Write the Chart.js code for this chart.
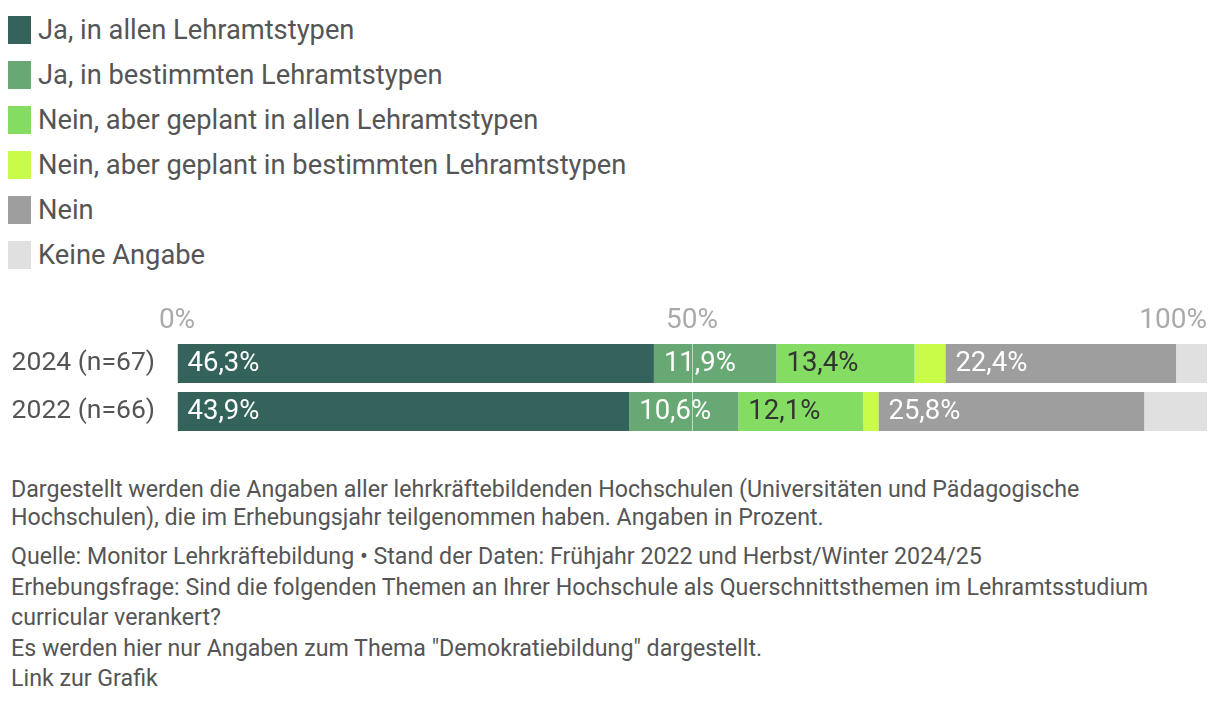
<!DOCTYPE html>
<html lang="de">
<head>
<meta charset="utf-8">
<script src="https://cdn.jsdelivr.net/npm/chart.js@4.4.1/dist/chart.umd.min.js"></script>
<style>
  body { margin: 0; width: 1220px; height: 702px; background: #fff; font-family: Roboto, sans-serif; color: #555; position: relative; overflow: hidden; }
  #legend { position: absolute; left: 8px; top: 7px; }
  .item { height: 45px; display: flex; align-items: center; font-size: 27.3px; white-space: nowrap; }
  .swatch { width: 23px; height: 28px; margin-right: 7px; flex: none; }
  #chart { position: absolute; left: 0; top: 290px; }
  #notes { position: absolute; left: 11px; top: 475px; font-size: 23.2px; white-space: nowrap; }
  #notes p { margin: 0; }
  #notes .p1 { line-height: 28px; }
  #notes .p2 { line-height: 30.5px; margin-top: 10px; }
</style>
</head>
<body>
<div id="legend"></div>
<canvas id="chart" width="1220" height="150"></canvas>
<div id="notes">
  <p class="p1">Dargestellt werden die Angaben aller lehrkräftebildenden Hochschulen (Universitäten und Pädagogische<br>Hochschulen), die im Erhebungsjahr teilgenommen haben. Angaben in Prozent.</p>
  <p class="p2">Quelle: Monitor Lehrkräftebildung • Stand der Daten: Frühjahr 2022 und Herbst/Winter 2024/25<br>Erhebungsfrage: Sind die folgenden Themen an Ihrer Hochschule als Querschnittsthemen im Lehramtsstudium<br>curricular verankert?<br>Es werden hier nur Angaben zum Thema "Demokratiebildung" dargestellt.<br>Link zur Grafik</p>
</div>
<script>
// Daten
const categories = ['2024 (n=67)', '2022 (n=66)'];
const seriesNames = [
    'Ja, in allen Lehramtstypen',
    'Ja, in bestimmten Lehramtstypen',
    'Nein, aber geplant in allen Lehramtstypen',
    'Nein, aber geplant in bestimmten Lehramtstypen',
    'Nein',
    'Keine Angabe'
];
const jaAlle = [46.3, 43.9];
const jaBestimmte = [11.9, 10.6];
const geplantAlle = [13.4, 12.1];
const geplantBestimmte = [3.0, 1.5];
const nein = [22.4, 25.8];
const keineAngabe = [3.0, 6.1];
const xTicks = [0, 50, 100];

const colors = ['#33635a', '#68a874', '#84dc63', '#c9fc48', '#9e9e9e', '#e0e0e0'];
const labelColors = ['#fff', '#fff', '#333', '#333', '#fff', '#333'];
const seriesValues = [jaAlle, jaBestimmte, geplantAlle, geplantBestimmte, nein, keineAngabe];

// Werte in den Balken
const valueLabels = {
    id: 'valueLabels',
    afterDatasetsDraw(chart) {
        const ctx = chart.ctx;
        ctx.save();
        ctx.font = '27.5px Roboto, sans-serif';
        ctx.textAlign = 'left';
        ctx.textBaseline = 'middle';
        chart.data.datasets.forEach(function (ds, i) {
            chart.getDatasetMeta(i).data.forEach(function (bar, j) {
                const v = ds.data[j];
                if (v < 7) return;
                ctx.fillStyle = labelColors[i];
                ctx.fillText(v.toFixed(1).replace('.', ',') + '%', Math.min(bar.base, bar.x) + 10, bar.y + 1);
            });
        });
        ctx.restore();
    }
};

// Achsenbeschriftung oben (letzte rechtsbündig)
const topTicks = {
    id: 'topTicks',
    afterDraw(chart) {
        const ctx = chart.ctx;
        const scale = chart.scales.x;
        ctx.save();
        ctx.font = '28px Roboto, sans-serif';
        ctx.fillStyle = '#aaa';
        ctx.textBaseline = 'bottom';
        xTicks.forEach(function (t, i) {
            ctx.textAlign = i === xTicks.length - 1 ? 'right' : 'center';
            ctx.fillText(t + '%', scale.getPixelForValue(t), chart.chartArea.top - 5);
        });
        ctx.restore();
    }
};

const chart = new Chart(document.getElementById('chart'), {
    type: 'bar',
    data: {
        labels: categories,
        datasets: seriesNames.map(function (name, i) {
            return {
                label: name,
                data: seriesValues[i],
                backgroundColor: colors[i],
                borderWidth: 0,
                barPercentage: 0.8125,
                categoryPercentage: 1
            };
        })
    },
    options: {
        indexAxis: 'y',
        responsive: false,
        animation: false,
        devicePixelRatio: 1,
        layout: { padding: { left: 0, right: 13, top: 0, bottom: 4.5 } },
        plugins: {
            legend: { display: false },
            tooltip: { enabled: false }
        },
        scales: {
            x: {
                stacked: true,
                position: 'top',
                min: 0,
                max: 100,
                afterBuildTicks: function (scale) {
                    scale.ticks = xTicks.map(function (v) { return { value: v }; });
                },
                afterFit: function (scale) { scale.height = 49.5; },
                ticks: { display: false },
                grid: { color: 'rgba(255,255,255,0.55)', drawTicks: false, z: 1 },
                border: { display: false }
            },
            y: {
                stacked: true,
                afterFit: function (scale) {
                    scale.width = 177;
                    scale.paddingTop = 0;
                    scale.paddingBottom = 0;
                },
                ticks: { color: '#555', font: { size: 26.5, family: 'Roboto, sans-serif' }, padding: 22, autoSkip: false },
                grid: { display: false, drawTicks: false },
                border: { display: false }
            }
        }
    },
    plugins: [valueLabels, topTicks]
});

// Legende aus den Datensätzen
const legendEl = document.getElementById('legend');
chart.data.datasets.forEach(function (ds) {
    const item = document.createElement('div');
    item.className = 'item';
    const sw = document.createElement('span');
    sw.className = 'swatch';
    sw.style.background = ds.backgroundColor;
    item.appendChild(sw);
    item.appendChild(document.createTextNode(ds.label));
    legendEl.appendChild(item);
});
</script>
</body>
</html>
